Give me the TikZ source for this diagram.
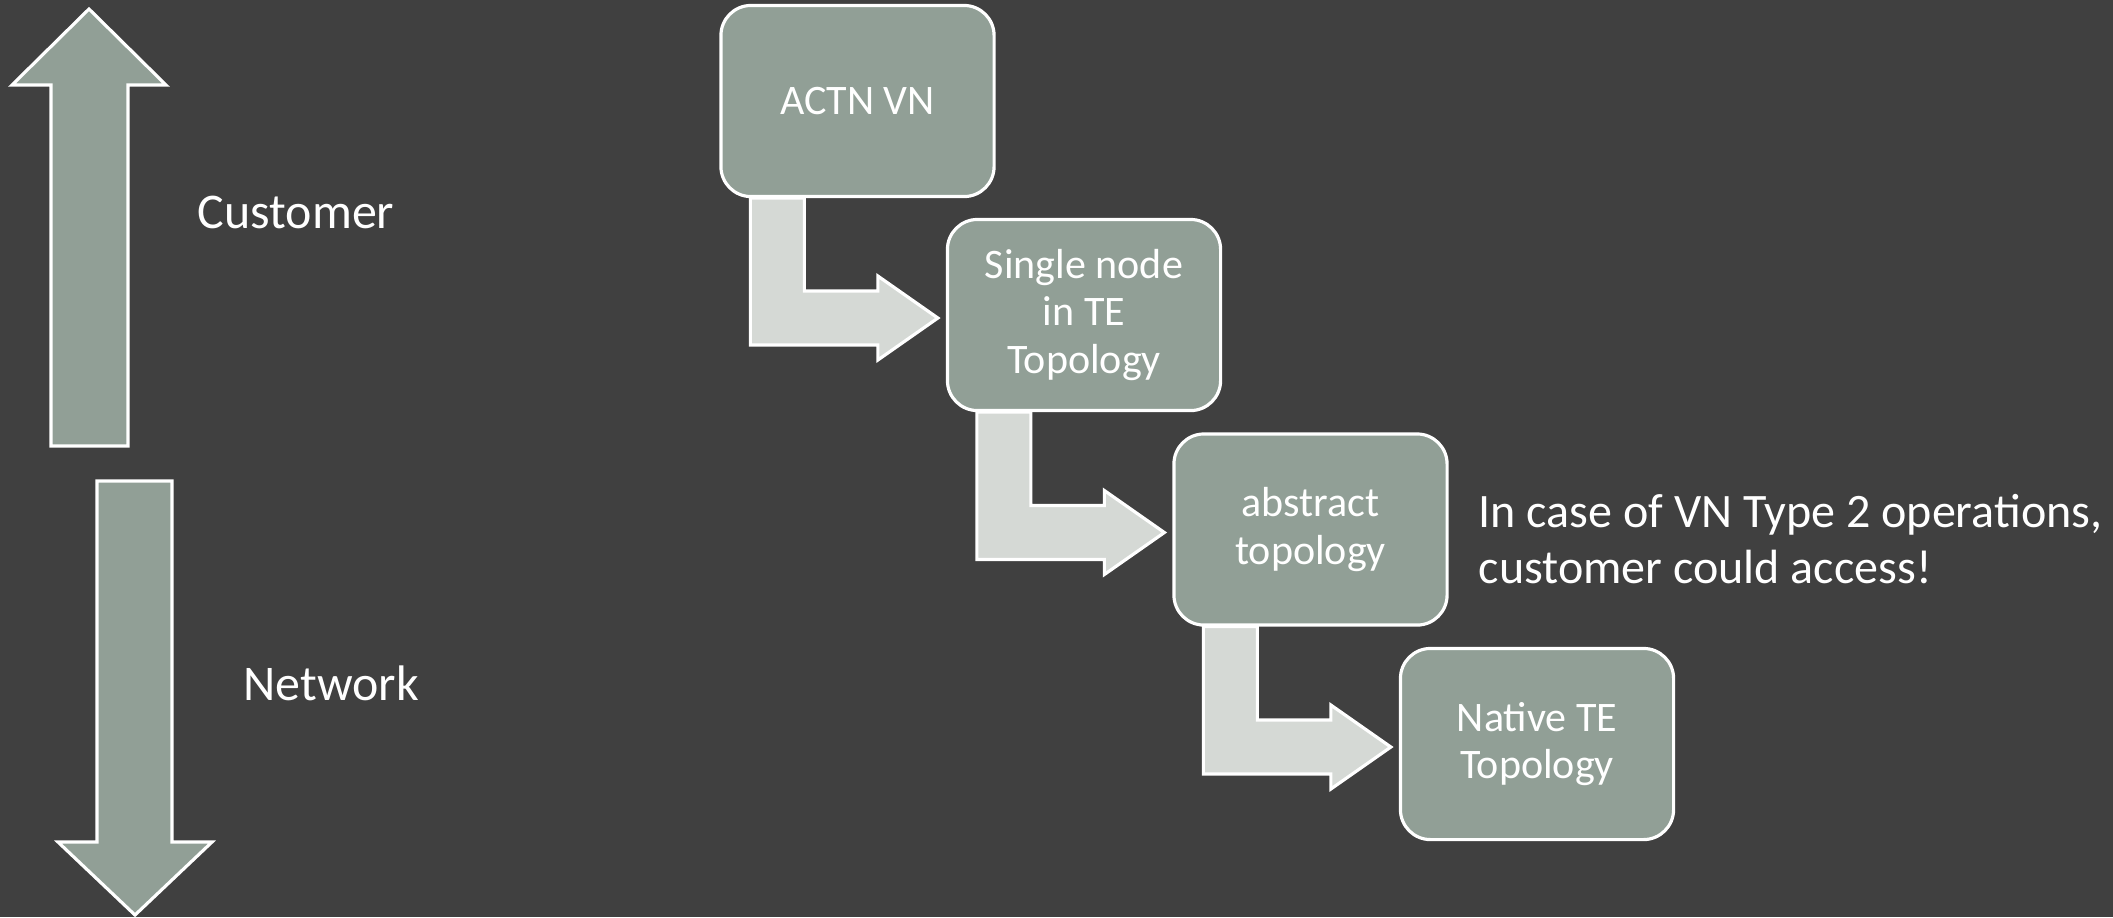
\documentclass[tikz,border=0pt]{standalone}
\usepackage{fontspec}
\setmainfont{Carlito}
\usetikzlibrary{calc}
\definecolor{slide}{HTML}{404040}
\definecolor{sage}{HTML}{919F96}
\definecolor{pale}{HTML}{D5D9D5}

\begin{document}
\begin{tikzpicture}[
  x=0.01cm, y=-0.01cm,
  layer/.style={rectangle, rounded corners=0.3cm, draw=white, line width=0.9pt,
    fill=sage, text=white, minimum width=2.73cm, minimum height=1.91cm,
    inner sep=0pt, align=center, font=\fontsize{11.95}{13.4}\selectfont},
  bent/.style={draw=white, line width=0.9pt, fill=pale, line join=miter},
  bigarrow/.style={draw=white, line width=0.9pt, fill=sage},
  side/.style={text=white, inner sep=0pt, font=\fontsize{14.2}{17}\selectfont}
]
\fill[slide] (0,0) rectangle (2113,917);
\useasboundingbox (0,0) rectangle (2113,917);

% customer / network direction
\draw[bigarrow] (51,446) -- (51,85) -- (12,85) -- (89,9) -- (166,85) -- (128,85) -- (128,446) -- cycle;
\draw[bigarrow] (97,481) -- (172,481) -- (172,842) -- (212,842) -- (135,915) -- (58,842) -- (97,842) -- cycle;
\node[side] (cust) at (296,212) {Customer};
\node[side] (netw) at (331,683) {Network};

% topology layers
\node[layer] (actn) at (857.5,101) {ACTN VN};
\node[layer] (single) at (1084,315) {Single node\\in TE\\Topology};
\node[layer] (abstr) at (1310.5,529.5) {abstract\\topology};
\node[layer] (native) at (1537,744) {Native TE\\Topology};

\foreach \a/\b in {actn/single, single/abstr, abstr/native}
  \draw[bent] ($(\a.south west)+(31,0)$) |- ($(\b.west)+(-68,30)$) -- ++(0,15)
    -- ($(\b.west)+(-8,3)$) -- ++(-60,-42) -- ++(0,15) -| ($(\a.south west)+(85,0)$) -- cycle;

\node[side, anchor=west, align=left, font=\fontsize{13.66}{15.9}\selectfont] (note)
  at (1478,539) {In case of VN Type 2 operations,\\customer could access!};
\end{tikzpicture}
\end{document}
